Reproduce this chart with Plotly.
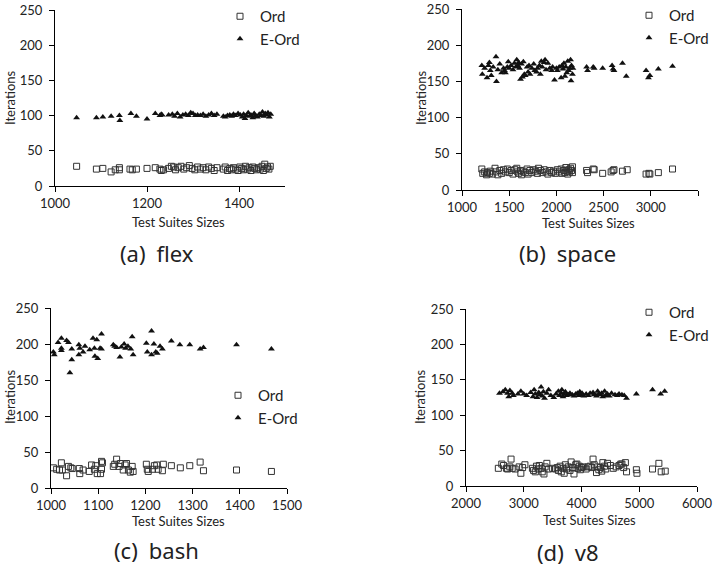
import plotly.graph_objects as go

# ---------------- data ----------------
flex_eord_x = [1047,1090,1104,1122,1140,1141,1165,1177,1200,1218,1228,1231,1233,1247,1255,1260,1266,1272,1278,1284,1290,1295,1300,1305,1310,1316,1322,1328,1334,1340,1346,1352,1366,1370,1375,1380,1384,1388,1392,1398,1403,1407,1410,1413,1416,1420,1423,1426,1430,1433,1436,1440,1444,1448,1451,1454,1457,1460,1463,1466,1469]
flex_eord_y = [97,97,98,99,100,93,103,99,95,103,100,102,101,101,102,99,103,98,101,102,100,104,103,100,101,100,102,99,101,103,100,102,99,98,100,101,99,102,100,103,101,98,102,96,100,104,99,101,97,103,100,98,102,100,105,99,103,101,104,98,102]
flex_ord_x = [1047,1090,1104,1122,1131,1140,1140,1163,1168,1177,1200,1218,1228,1231,1236,1247,1253,1258,1262,1268,1274,1280,1286,1292,1298,1304,1310,1316,1322,1328,1334,1340,1346,1352,1366,1370,1375,1380,1384,1388,1393,1398,1402,1406,1410,1414,1418,1422,1426,1430,1434,1438,1442,1446,1450,1453,1456,1459,1462,1465,1468]
flex_ord_y = [28,24,25,20,23,26,23,24,23,24,25,26,24,22,23,25,28,27,23,26,28,24,26,29,25,23,27,24,26,23,27,25,22,26,24,27,22,25,23,26,24,22,27,25,23,28,24,26,22,27,25,23,26,24,28,22,31,25,27,24,28]

space_eord_x = [1210,1215,1240,1265,1280,1290,1300,1310,1330,1360,1365,1380,1400,1420,1440,1450,1460,1480,1490,1500,1520,1540,1555,1570,1580,1590,1600,1610,1620,1630,1640,1650,1660,1670,1690,1700,1710,1720,1740,1760,1770,1790,1800,1820,1830,1840,1850,1870,1880,1890,1910,1930,1950,1960,1980,2000,2010,2030,2050,2060,2070,2080,2090,2100,2110,2120,2130,2140,2150,2155,2160,2170,2175,2320,2330,2390,2400,2490,2590,2600,2610,2700,2740,2950,2975,2990,3080,3230]
space_eord_y = [172,160,168,155,172,176,165,158,170,184,150,166,174,162,168,165,162,170,177,168,172,166,175,170,180,172,176,168,153,174,156,177,160,158,170,163,172,160,168,174,165,163,168,172,160,178,170,176,180,166,175,168,165,170,152,168,165,170,155,172,167,175,157,170,162,178,165,168,180,151,172,160,168,170,165,170,168,168,172,167,165,175,157,165,155,158,167,171]
space_ord_x = [1210,1220,1240,1260,1270,1290,1300,1320,1350,1360,1380,1400,1420,1440,1460,1480,1500,1520,1540,1560,1580,1590,1600,1620,1630,1650,1670,1690,1700,1720,1740,1760,1780,1800,1810,1830,1850,1870,1890,1910,1930,1950,1970,1990,2010,2030,2050,2060,2080,2090,2100,2110,2120,2130,2140,2150,2160,2170,2170,2320,2330,2390,2400,2490,2580,2600,2610,2700,2750,2950,2980,2990,3080,3230]
space_ord_y = [29,23,25,21,24,23,26,22,30,25,21,27,23,28,25,29,24,27,22,28,30,25,23,27,21,26,24,29,22,27,24,28,26,23,30,27,24,28,25,22,27,24,26,23,28,25,29,23,27,24,31,26,22,28,25,30,27,32,24,27,24,29,28,23,25,27,28,26,28,22,23,22,24,29]

bash_eord_x = [1005,1007,1015,1022,1022,1022,1033,1037,1040,1044,1044,1059,1059,1061,1068,1072,1082,1089,1092,1093,1097,1099,1104,1107,1107,1132,1135,1139,1146,1149,1155,1158,1163,1169,1172,1174,1202,1204,1213,1213,1218,1222,1225,1231,1236,1255,1273,1294,1316,1323,1393,1467]
bash_eord_y = [189,185,202,208,194,191,205,202,160,193,178,199,185,194,189,197,192,208,194,183,206,180,194,214,193,199,197,195,182,196,200,194,197,193,210,185,201,189,218,185,200,189,187,197,193,204,199,199,193,195,199,193]
bash_ord_x = [1005,1012,1018,1022,1024,1033,1037,1042,1045,1060,1061,1068,1081,1086,1092,1095,1098,1105,1107,1107,1109,1132,1135,1139,1144,1147,1153,1157,1160,1164,1168,1172,1174,1202,1204,1206,1215,1219,1224,1227,1236,1238,1255,1274,1294,1316,1323,1393,1467]
bash_ord_y = [28,26,25,35,25,17,30,28,27,27,20,25,23,32,26,31,20,20,26,37,35,30,33,40,30,34,25,32,34,25,22,30,23,33,26,23,26,31,32,26,24,33,31,28,31,36,24,25,23]

v8_eord_x = [2580,2640,2680,2720,2740,2760,2800,2820,2900,2950,3000,3050,3120,3160,3180,3200,3230,3260,3280,3300,3320,3340,3360,3400,3430,3470,3520,3560,3600,3620,3650,3660,3680,3700,3720,3740,3770,3800,3840,3870,3900,3930,3950,3970,3990,4010,4040,4080,4120,4150,4200,4220,4260,4280,4300,4320,4350,4370,4400,4420,4450,4480,4520,4580,4620,4650,4700,4740,4780,4950,5230,5370,5440]
v8_eord_y = [131,133,136,131,126,135,131,128,130,134,130,128,132,126,136,130,125,132,129,140,127,133,124,131,136,128,125,130,134,128,131,136,126,130,133,128,129,131,129,127,130,131,128,133,129,131,127,130,128,131,132,129,127,134,130,129,131,126,134,128,130,127,131,129,128,130,129,128,124,130,136,130,134]
v8_ord_x = [2560,2620,2650,2700,2720,2760,2780,2800,2850,2920,2950,2980,3020,3150,3170,3200,3220,3250,3270,3300,3320,3350,3370,3400,3430,3500,3550,3580,3600,3630,3650,3680,3700,3720,3740,3770,3800,3820,3850,3870,3900,3920,3940,3960,3980,4000,4030,4080,4120,4150,4180,4200,4220,4260,4280,4300,4330,4350,4370,4400,4420,4450,4500,4550,4600,4650,4680,4700,4730,4760,4780,4950,4960,5230,5340,5380,5450]
v8_ord_y = [25,31,29,25,24,27,38,25,24,27,18,26,30,25,22,20,28,24,29,25,20,17,27,32,24,25,24,26,22,28,20,25,18,30,24,27,22,34,26,17,30,31,25,28,23,26,27,24,27,28,26,38,30,19,27,23,26,21,33,28,24,32,29,25,27,29,31,31,26,33,20,23,18,24,32,20,21]

captions = ["(a)\u2002flex", "(b)\u2002space", "(c)\u2002bash", "(d)\u2002v8"]
x_ranges = [[1000, 1500], [1000, 3500], [1000, 1500], [2000, 6000]]
x_dticks = [200, 500, 100, 1000]

W, H = 713, 571
def px(x): return x / W
def py(y): return 1 - y / H

# panel geometry in pixels: (x0, x1, ybottom, ytop)
panels = [(55, 285, 186, 10), (462, 698, 190, 9), (51, 287, 488, 308), (466, 697, 486, 309)]
cap_pos = [(157, 253), (567, 253), (156, 550), (568, 552)]
ytitle_pos = [(10, 98), (421, 98), (10, 397), (420, 397)]
xtitle_pos = [(178, 222), (588, 223), (178, 521), (589, 520)]
# legend: (text start x, first item centre y) in pixels
legend_pos = [(259, 15), (668, 14), (257, 394), (668, 311)]

data = [
    (flex_ord_x, flex_ord_y, flex_eord_x, flex_eord_y),
    (space_ord_x, space_ord_y, space_eord_x, space_eord_y),
    (bash_ord_x, bash_ord_y, bash_eord_x, bash_eord_y),
    (v8_ord_x, v8_ord_y, v8_eord_x, v8_eord_y),
]

fig = go.Figure()
TICKFONT = dict(family="Lato, Open Sans, sans-serif", size=13, color="#222")
annotations = []
for i, (ox, oy, ex, ey) in enumerate(data):
    n = "" if i == 0 else str(i + 1)
    lg = "legend" + n
    fig.add_trace(go.Scatter(x=ox, y=oy, mode="markers", name="Ord",
                             xaxis="x" + n, yaxis="y" + n, legend=lg,
                             marker=dict(symbol="square-open", size=6, color="#333",
                                         line=dict(width=1, color="#333"))))
    fig.add_trace(go.Scatter(x=ex, y=ey, mode="markers", name="E-Ord",
                             xaxis="x" + n, yaxis="y" + n, legend=lg,
                             marker=dict(symbol="triangle-up", size=6, color="#111")))
    x0, x1, yb, yt = panels[i]
    axcommon = dict(showgrid=False, zeroline=False, showline=True, linecolor="#000",
                    linewidth=1, ticks="outside", ticklen=5, tickcolor="#000",
                    tickfont=TICKFONT)
    fig.update_layout(**{
        "xaxis" + n: dict(domain=[px(x0), px(x1)], range=x_ranges[i], dtick=x_dticks[i],
                          anchor="y" + n, tick0=x_ranges[i][0], ticklabelstandoff=0, **axcommon),
        "yaxis" + n: dict(domain=[py(yb), py(yt)], range=[0, 250], dtick=50,
                          anchor="x" + n, ticklabelstandoff=4, **axcommon),
        lg: dict(x=px(legend_pos[i][0] - 39), y=py(legend_pos[i][1] - 15), xanchor="left", yanchor="top",
                 bgcolor="rgba(0,0,0,0)", font=dict(family="Lato, Open Sans, sans-serif", size=15, color="#222"),
                 itemwidth=30, tracegroupgap=0),
    })
    annotations.append(dict(text=captions[i], x=px(cap_pos[i][0]), y=py(cap_pos[i][1]),
                            xref="paper", yref="paper", showarrow=False, xanchor="center", yanchor="middle",
                            font=dict(family="Noto Sans, sans-serif", size=22, color="#222")))
    annotations.append(dict(text="Iterations", x=px(ytitle_pos[i][0]), y=py(ytitle_pos[i][1]),
                            xref="paper", yref="paper", showarrow=False, textangle=-90,
                            xanchor="center", yanchor="middle",
                            font=dict(family="Lato, Open Sans, sans-serif", size=13, color="#222")))
    annotations.append(dict(text="Test Suites Sizes", x=px(xtitle_pos[i][0]), y=py(xtitle_pos[i][1]),
                            xref="paper", yref="paper", showarrow=False,
                            xanchor="center", yanchor="middle",
                            font=dict(family="Lato, Open Sans, sans-serif", size=13, color="#222")))

fig.update_layout(width=W, height=H, margin=dict(l=0, r=0, t=0, b=0, autoexpand=False),
                  paper_bgcolor="white", plot_bgcolor="white", annotations=annotations,
                  showlegend=True)
fig.write_html("out.html")
